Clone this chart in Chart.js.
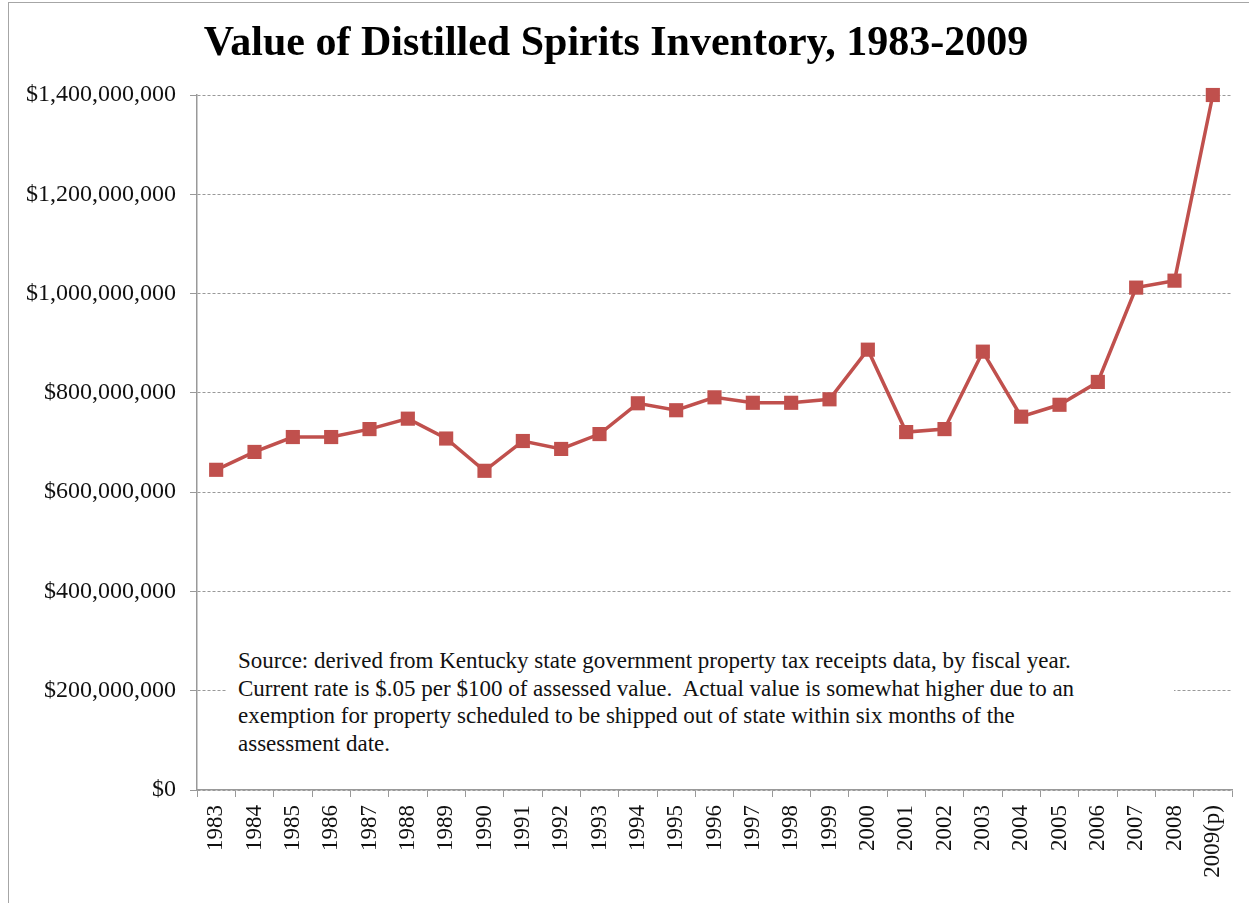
<!DOCTYPE html>
<html>
<head>
<meta charset="utf-8">
<script src="https://cdn.jsdelivr.net/npm/chart.js@4"></script>
<style>
    html, body { margin: 0; padding: 0; background: #fff; }
    #wrap { position: relative; width: 1249px; height: 903px; }
    #frame { position: absolute; left: 8px; top: 2px; right: -2px; bottom: -2px;
             border-left: 1px solid #a6a6a6; border-top: 1px solid #a6a6a6; pointer-events: none; }
    #note { position: absolute; left: 226px; top: 646px; width: 948px; height: 114px;
            background: #fff; font-family: "Liberation Serif", "DejaVu Serif", serif;
            font-size: 23px; line-height: 27.5px; color: #111; white-space: pre;
            box-sizing: border-box; padding: 1px 0 0 12px; }
</style>
</head>
<body>
<div id="wrap">
    <canvas id="chart" width="1249" height="903"></canvas>
    <div id="note"></div>
    <div id="frame"></div>
</div>
<script>
let years = ["1983", "1984", "1985", "1986", "1987", "1988", "1989", "1990", "1991", "1992",
             "1993", "1994", "1995", "1996", "1997", "1998", "1999", "2000", "2001", "2002",
             "2003", "2004", "2005", "2006", "2007", "2008", "2009(p)"];

// inventory value in dollars
let inventoryValues = [645e6, 681e6, 711e6, 711e6, 727e6, 748e6, 708e6, 643e6, 703e6, 687e6,
                       717e6, 779e6, 765e6, 791e6, 780e6, 780e6, 787e6, 887e6, 721e6, 727e6,
                       883e6, 752e6, 776e6, 822e6, 1012e6, 1026e6, 1400e6];

let yTicks = [0, 200e6, 400e6, 600e6, 800e6, 1000e6, 1200e6, 1400e6];

let chartTitle = "Value of Distilled Spirits Inventory, 1983-2009";
let noteLines = [
    "Source: derived from Kentucky state government property tax receipts data, by fiscal year.",
    "Current rate is $.05 per $100 of assessed value.  Actual value is somewhat higher due to an",
    "exemption for property scheduled to be shipped out of state within six months of the",
    "assessment date."
];

document.querySelector("#note").textContent = noteLines.join("\n");

let serif = "'Liberation Serif', 'DejaVu Serif', serif";
let lineColor = "#C0504D";

new Chart(document.querySelector("#chart").getContext("2d"), {
    type: "line",
    data: {
        labels: years,
        datasets: [{
            data: inventoryValues,
            borderColor: lineColor,
            backgroundColor: lineColor,
            borderWidth: 3.5,
            pointStyle: "rect",
            pointRadius: 10,
            pointBorderWidth: 0,
            pointBackgroundColor: lineColor,
            tension: 0,
            clip: false
        }]
    },
    options: {
        responsive: false,
        animation: false,
        layout: { padding: { left: 0, right: 17, top: 0, bottom: 0 } },
        plugins: {
            legend: { display: false },
            tooltip: { enabled: false },
            title: {
                display: true,
                text: chartTitle,
                color: "#000",
                font: { family: serif, size: 42, weight: "bold", lineHeight: 1.2 },
                padding: { top: 19, bottom: 25.6 }
            }
        },
        scales: {
            x: {
                offset: true,
                grid: { offset: true, drawOnChartArea: false, color: "#999", tickLength: 7 },
                border: { color: "#999", width: 1.5 },
                ticks: {
                    color: "#111",
                    font: { family: serif, size: 23 },
                    minRotation: 90,
                    maxRotation: 90,
                    autoSkip: false,
                    padding: 8
                },
                afterFit: function(scale) { scale.height = 113; }
            },
            y: {
                min: 0,
                max: 1400e6,
                afterBuildTicks: function(scale) {
                    scale.ticks = yTicks.map(function(v) { return { value: v }; });
                },
                grid: { color: "#999", lineWidth: 1, tickLength: 7, tickBorderDash: [] },
                border: { color: "#999", width: 1.5, dash: [3, 2] },
                ticks: {
                    color: "#111",
                    font: { family: serif, size: 24 },
                    padding: 14,
                    callback: function(v) { return "$" + Number(v).toLocaleString("en-US"); }
                },
                afterFit: function(scale) { scale.width = 197; }
            }
        }
    }
});
</script>
</body>
</html>
